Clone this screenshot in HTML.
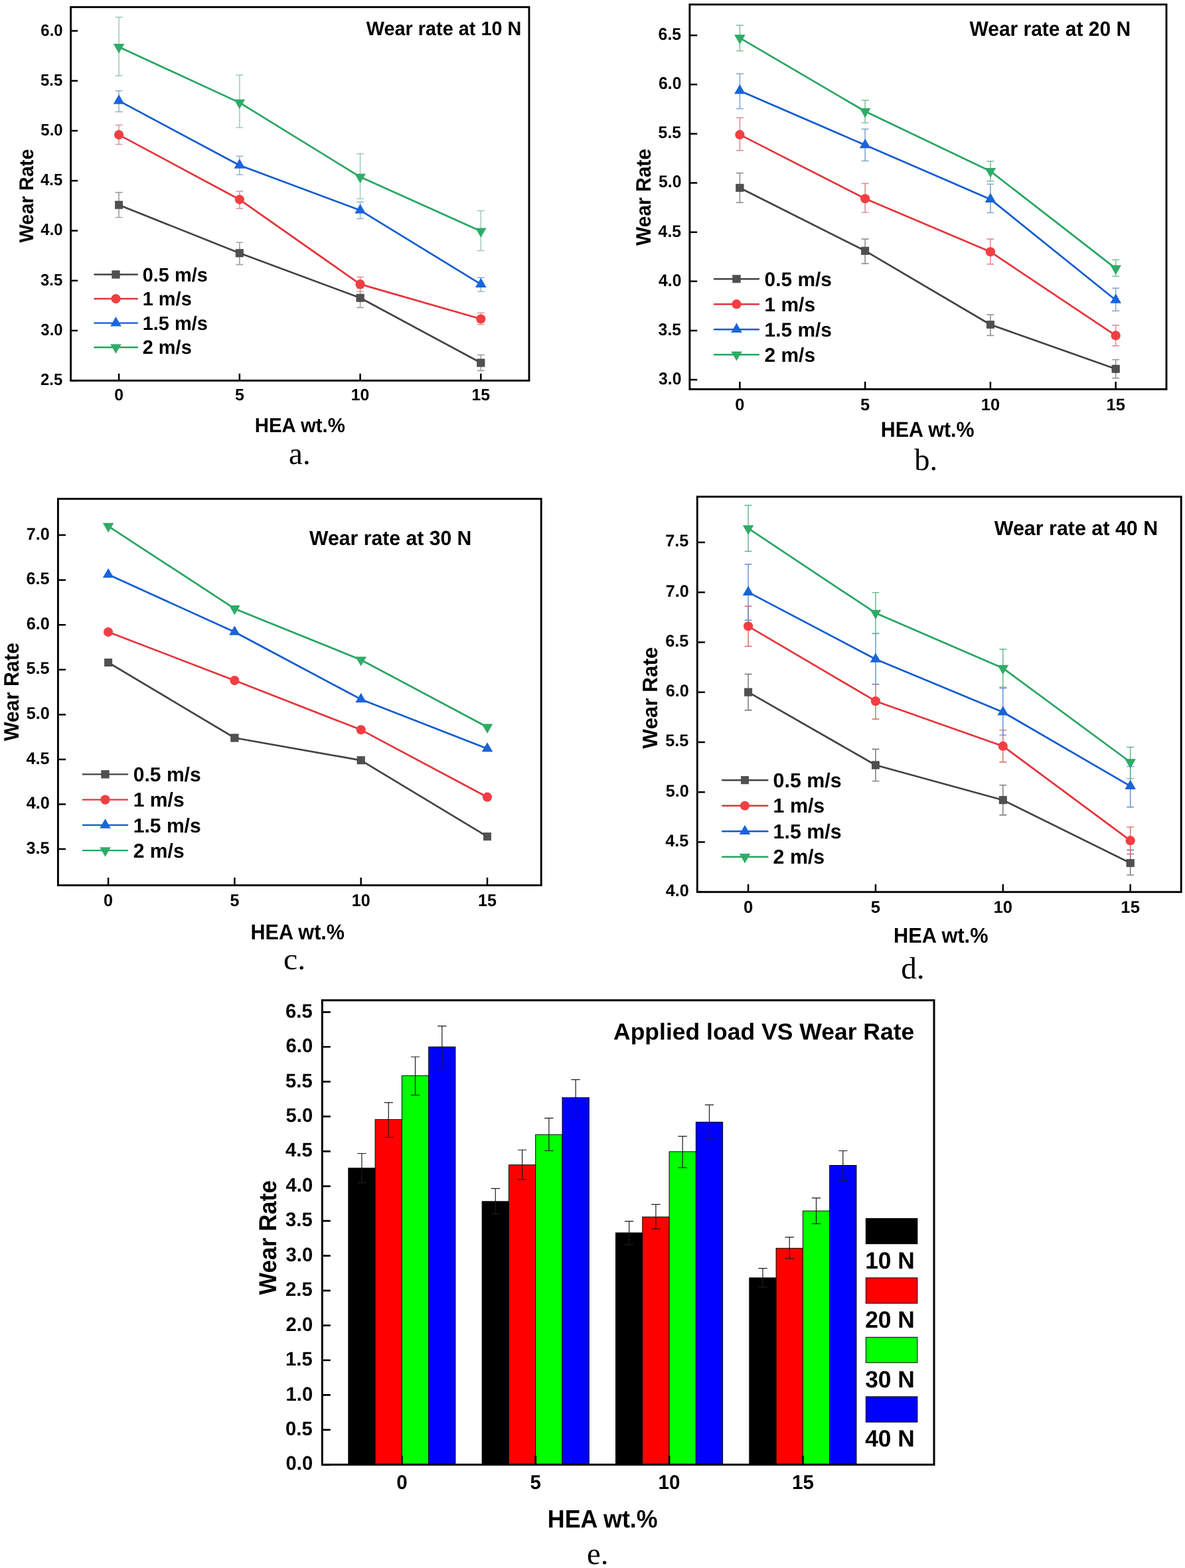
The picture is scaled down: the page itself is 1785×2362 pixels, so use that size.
<!DOCTYPE html>
<html><head><meta charset="utf-8"><title>Wear rate figure</title><style>html,body{margin:0;padding:0;background:#fff;}svg{display:block;}</style></head><body>
<svg width="1785" height="2362" viewBox="0 0 1785 2362" text-rendering="geometricPrecision">
<rect width="1785" height="2362" fill="#fff"/>
<path d="M179.1,289.88V327.49M173.7,289.88H184.5M173.7,327.49H184.5" stroke="#a4a4a4" stroke-width="1.7" fill="none"/>
<path d="M360.85,365.25V398.65M355.45,365.25H366.25M355.45,398.65H366.25" stroke="#a4a4a4" stroke-width="1.7" fill="none"/>
<path d="M542.6,433.86V463.35M537.2,433.86H548M537.2,463.35H548" stroke="#a4a4a4" stroke-width="1.7" fill="none"/>
<path d="M724.35,534.66V558.43M718.95,534.66H729.75M718.95,558.43H729.75" stroke="#a4a4a4" stroke-width="1.7" fill="none"/>
<path d="M179.1,188.47V217.51M173.7,188.47H184.5M173.7,217.51H184.5" stroke="#dba0a3" stroke-width="1.7" fill="none"/>
<path d="M360.85,288.07V314.1M355.45,288.07H366.25M355.45,314.1H366.25" stroke="#dba0a3" stroke-width="1.7" fill="none"/>
<path d="M542.6,417.46V439.27M537.2,417.46H548M537.2,439.27H548" stroke="#dba0a3" stroke-width="1.7" fill="none"/>
<path d="M724.35,471.32V488.92M718.95,471.32H729.75M718.95,488.92H729.75" stroke="#dba0a3" stroke-width="1.7" fill="none"/>
<path d="M179.1,136.87V168.46M173.7,136.87H184.5M173.7,168.46H184.5" stroke="#a2b8cb" stroke-width="1.7" fill="none"/>
<path d="M360.85,235.41V263.25M355.45,235.41H366.25M355.45,263.25H366.25" stroke="#a2b8cb" stroke-width="1.7" fill="none"/>
<path d="M542.6,304.32V329.45M537.2,304.32H548M537.2,329.45H548" stroke="#a2b8cb" stroke-width="1.7" fill="none"/>
<path d="M724.35,418.21V439.27M718.95,418.21H729.75M718.95,439.27H729.75" stroke="#a2b8cb" stroke-width="1.7" fill="none"/>
<path d="M179.1,25.84V114.15M173.7,25.84H184.5M173.7,114.15H184.5" stroke="#a9cfba" stroke-width="1.7" fill="none"/>
<path d="M360.85,113.1V192.24M355.45,113.1H366.25M355.45,192.24H366.25" stroke="#a9cfba" stroke-width="1.7" fill="none"/>
<path d="M542.6,231.65V299.36M537.2,231.65H548M537.2,299.36H548" stroke="#a9cfba" stroke-width="1.7" fill="none"/>
<path d="M724.35,317.41V377.59M718.95,317.41H729.75M718.95,377.59H729.75" stroke="#a9cfba" stroke-width="1.7" fill="none"/>
<polyline points="179.1,308.68 360.85,381.35 542.6,448.75 724.35,546.55" stroke="#434343" stroke-width="2.7" fill="none" stroke-linejoin="round"/>
<rect x="173.4" y="302.98" width="11.4" height="11.4" fill="#505050" stroke="#3a3a3a" stroke-width="0.6"/>
<rect x="355.15" y="375.65" width="11.4" height="11.4" fill="#505050" stroke="#3a3a3a" stroke-width="0.6"/>
<rect x="536.9" y="443.05" width="11.4" height="11.4" fill="#505050" stroke="#3a3a3a" stroke-width="0.6"/>
<rect x="718.65" y="540.85" width="11.4" height="11.4" fill="#505050" stroke="#3a3a3a" stroke-width="0.6"/>
<polyline points="179.1,203.07 360.85,300.56 542.6,428.14 724.35,480.5" stroke="#e6333a" stroke-width="2.7" fill="none" stroke-linejoin="round"/>
<circle cx="179.1" cy="203.07" r="7.1" fill="#f23e43"/>
<circle cx="360.85" cy="300.56" r="7.1" fill="#f23e43"/>
<circle cx="542.6" cy="428.14" r="7.1" fill="#f23e43"/>
<circle cx="724.35" cy="480.5" r="7.1" fill="#f23e43"/>
<polyline points="179.1,151.92 360.85,248.96 542.6,316.81 724.35,428.14" stroke="#0f5ccf" stroke-width="2.7" fill="none" stroke-linejoin="round"/>
<polygon points="179.1,142.32 170.79,156.72 187.41,156.72" fill="#1a64da"/>
<polygon points="360.85,239.36 352.54,253.76 369.16,253.76" fill="#1a64da"/>
<polygon points="542.6,307.21 534.29,321.61 550.91,321.61" fill="#1a64da"/>
<polygon points="724.35,418.54 716.04,432.94 732.66,432.94" fill="#1a64da"/>
<polyline points="179.1,70.82 360.85,154.62 542.6,266.56 724.35,348.25" stroke="#27a55f" stroke-width="2.7" fill="none" stroke-linejoin="round"/>
<polygon points="179.1,80.42 170.79,66.02 187.41,66.02" fill="#2fab68"/>
<polygon points="360.85,164.22 352.54,149.82 369.16,149.82" fill="#2fab68"/>
<polygon points="542.6,276.16 534.29,261.76 550.91,261.76" fill="#2fab68"/>
<polygon points="724.35,357.85 716.04,343.45 732.66,343.45" fill="#2fab68"/>
<rect x="106.6" y="10.7" width="690.4" height="562.6" fill="none" stroke="#000" stroke-width="2.9"/>
<path d="M106.6,573.17H117.1M106.6,497.95H117.1M106.6,422.73H117.1M106.6,347.5H117.1M106.6,272.27H117.1M106.6,197.05H117.1M106.6,121.82H117.1M106.6,46.6H117.1M179.1,573.3V562.8M360.85,573.3V562.8M542.6,573.3V562.8M724.35,573.3V562.8" stroke="#000" stroke-width="2.5" fill="none"/>
<text transform="translate(61.01,580.13) scale(0.9633,1)" font-family='"Liberation Sans", Arial, Helvetica, sans-serif' font-weight="bold" font-size="24.79" fill="#000">2.5</text>
<text transform="translate(61.36,504.9) scale(0.9633,1)" font-family='"Liberation Sans", Arial, Helvetica, sans-serif' font-weight="bold" font-size="24.79" fill="#000">3.0</text>
<text transform="translate(61.01,429.68) scale(0.9633,1)" font-family='"Liberation Sans", Arial, Helvetica, sans-serif' font-weight="bold" font-size="24.79" fill="#000">3.5</text>
<text transform="translate(61.36,354.45) scale(0.9633,1)" font-family='"Liberation Sans", Arial, Helvetica, sans-serif' font-weight="bold" font-size="24.79" fill="#000">4.0</text>
<text transform="translate(61.01,279.23) scale(0.9633,1)" font-family='"Liberation Sans", Arial, Helvetica, sans-serif' font-weight="bold" font-size="24.79" fill="#000">4.5</text>
<text transform="translate(61.36,204) scale(0.9633,1)" font-family='"Liberation Sans", Arial, Helvetica, sans-serif' font-weight="bold" font-size="24.79" fill="#000">5.0</text>
<text transform="translate(61.01,128.78) scale(0.9633,1)" font-family='"Liberation Sans", Arial, Helvetica, sans-serif' font-weight="bold" font-size="24.79" fill="#000">5.5</text>
<text transform="translate(61.36,53.55) scale(0.9633,1)" font-family='"Liberation Sans", Arial, Helvetica, sans-serif' font-weight="bold" font-size="24.79" fill="#000">6.0</text>
<text transform="translate(172.19,603.45) scale(1.0079,1)" font-family='"Liberation Sans", Arial, Helvetica, sans-serif' font-weight="bold" font-size="24.65" fill="#000">0</text>
<text transform="translate(353.94,603.45) scale(1.0079,1)" font-family='"Liberation Sans", Arial, Helvetica, sans-serif' font-weight="bold" font-size="24.65" fill="#000">5</text>
<text transform="translate(528.78,603.45) scale(1.0079,1)" font-family='"Liberation Sans", Arial, Helvetica, sans-serif' font-weight="bold" font-size="24.65" fill="#000">10</text>
<text transform="translate(710.53,603.45) scale(1.0079,1)" font-family='"Liberation Sans", Arial, Helvetica, sans-serif' font-weight="bold" font-size="24.65" fill="#000">15</text>
<text transform="translate(383.79,650.8) scale(0.9635,1)" font-family='"Liberation Sans", Arial, Helvetica, sans-serif' font-weight="bold" font-size="30.50" fill="#000">HEA wt.%</text>
<text transform="translate(49.5,365.5) rotate(-90) scale(0.9652,1)" font-family='"Liberation Sans", Arial, Helvetica, sans-serif' font-weight="bold" font-size="30.00" fill="#000">Wear Rate</text>
<text transform="translate(551.7,53.1) scale(0.9756,1)" font-family='"Liberation Sans", Arial, Helvetica, sans-serif' font-weight="bold" font-size="29.58" fill="#000">Wear rate at 10 N</text>
<text transform="translate(434.95,698.6) scale(1.0090,1)" font-family='"Liberation Serif", "Times New Roman", serif' font-weight="normal" font-size="46.80" fill="#000">a.</text>
<line x1="142.45" y1="413.5" x2="206.8" y2="413.5" stroke="#434343" stroke-width="2.4" stroke-linecap="round"/>
<rect x="168.8" y="407.8" width="11.4" height="11.4" fill="#505050" stroke="#3a3a3a" stroke-width="0.6"/>
<text transform="translate(214.74,423.71) scale(0.9891,1)" font-family='"Liberation Sans", Arial, Helvetica, sans-serif' font-weight="bold" font-size="29.26" fill="#000">0.5 m/s</text>
<line x1="142.45" y1="450.07" x2="206.8" y2="450.07" stroke="#e6333a" stroke-width="2.4" stroke-linecap="round"/>
<circle cx="174.5" cy="450.07" r="7.1" fill="#f23e43"/>
<text transform="translate(214.74,460.28) scale(0.9891,1)" font-family='"Liberation Sans", Arial, Helvetica, sans-serif' font-weight="bold" font-size="29.26" fill="#000">1 m/s</text>
<line x1="142.45" y1="486.64" x2="206.8" y2="486.64" stroke="#0f5ccf" stroke-width="2.4" stroke-linecap="round"/>
<polygon points="174.5,477.04 166.19,491.44 182.81,491.44" fill="#1a64da"/>
<text transform="translate(214.74,496.85) scale(0.9891,1)" font-family='"Liberation Sans", Arial, Helvetica, sans-serif' font-weight="bold" font-size="29.26" fill="#000">1.5 m/s</text>
<line x1="142.45" y1="523.21" x2="206.8" y2="523.21" stroke="#27a55f" stroke-width="2.4" stroke-linecap="round"/>
<polygon points="174.5,532.81 166.19,518.41 182.81,518.41" fill="#2fab68"/>
<text transform="translate(214.74,533.42) scale(0.9891,1)" font-family='"Liberation Sans", Arial, Helvetica, sans-serif' font-weight="bold" font-size="29.26" fill="#000">2 m/s</text>
<path d="M1114.4,260.72V305.19M1109,260.72H1119.8M1109,305.19H1119.8" stroke="#969696" stroke-width="1.7" fill="none"/>
<path d="M1303.15,360.04V397.09M1297.75,360.04H1308.55M1297.75,397.09H1308.55" stroke="#969696" stroke-width="1.7" fill="none"/>
<path d="M1491.9,474.17V505.3M1486.5,474.17H1497.3M1486.5,505.3H1497.3" stroke="#969696" stroke-width="1.7" fill="none"/>
<path d="M1680.65,541.77V569.63M1675.25,541.77H1686.05M1675.25,569.63H1686.05" stroke="#969696" stroke-width="1.7" fill="none"/>
<path d="M1114.4,177.42V226.63M1109,177.42H1119.8M1109,226.63H1119.8" stroke="#e09598" stroke-width="1.7" fill="none"/>
<path d="M1303.15,276.43V320.01M1297.75,276.43H1308.55M1297.75,320.01H1308.55" stroke="#e09598" stroke-width="1.7" fill="none"/>
<path d="M1491.9,360.04V397.83M1486.5,360.04H1497.3M1486.5,397.83H1497.3" stroke="#e09598" stroke-width="1.7" fill="none"/>
<path d="M1680.65,489.89V520.87M1675.25,489.89H1686.05M1675.25,520.87H1686.05" stroke="#e09598" stroke-width="1.7" fill="none"/>
<path d="M1114.4,111.16V163.63M1109,111.16H1119.8M1109,163.63H1119.8" stroke="#8cadd3" stroke-width="1.7" fill="none"/>
<path d="M1303.15,194.31V242.34M1297.75,194.31H1308.55M1297.75,242.34H1308.55" stroke="#8cadd3" stroke-width="1.7" fill="none"/>
<path d="M1491.9,277.32V320.46M1486.5,277.32H1497.3M1486.5,320.46H1497.3" stroke="#8cadd3" stroke-width="1.7" fill="none"/>
<path d="M1680.65,434.15V468.39M1675.25,434.15H1686.05M1675.25,468.39H1686.05" stroke="#8cadd3" stroke-width="1.7" fill="none"/>
<path d="M1114.4,38.08V76.62M1109,38.08H1119.8M1109,76.62H1119.8" stroke="#8cc4a3" stroke-width="1.7" fill="none"/>
<path d="M1303.15,151.03V184.98M1297.75,151.03H1308.55M1297.75,184.98H1308.55" stroke="#8cc4a3" stroke-width="1.7" fill="none"/>
<path d="M1491.9,242.79V272.88M1486.5,242.79H1497.3M1486.5,272.88H1497.3" stroke="#8cc4a3" stroke-width="1.7" fill="none"/>
<path d="M1680.65,391.46V416.22M1675.25,391.46H1686.05M1675.25,416.22H1686.05" stroke="#8cc4a3" stroke-width="1.7" fill="none"/>
<polyline points="1114.4,282.96 1303.15,377.82 1491.9,489 1680.65,555.7" stroke="#434343" stroke-width="2.7" fill="none" stroke-linejoin="round"/>
<rect x="1108.7" y="277.26" width="11.4" height="11.4" fill="#505050" stroke="#3a3a3a" stroke-width="0.6"/>
<rect x="1297.45" y="372.12" width="11.4" height="11.4" fill="#505050" stroke="#3a3a3a" stroke-width="0.6"/>
<rect x="1486.2" y="483.3" width="11.4" height="11.4" fill="#505050" stroke="#3a3a3a" stroke-width="0.6"/>
<rect x="1674.95" y="550" width="11.4" height="11.4" fill="#505050" stroke="#3a3a3a" stroke-width="0.6"/>
<polyline points="1114.4,202.91 1303.15,299.26 1491.9,379.31 1680.65,505.45" stroke="#e6333a" stroke-width="2.7" fill="none" stroke-linejoin="round"/>
<circle cx="1114.4" cy="202.91" r="7.1" fill="#f23e43"/>
<circle cx="1303.15" cy="299.26" r="7.1" fill="#f23e43"/>
<circle cx="1491.9" cy="379.31" r="7.1" fill="#f23e43"/>
<circle cx="1680.65" cy="505.45" r="7.1" fill="#f23e43"/>
<polyline points="1114.4,136.65 1303.15,218.48 1491.9,300.15 1680.65,451.94" stroke="#0f5ccf" stroke-width="2.7" fill="none" stroke-linejoin="round"/>
<polygon points="1114.4,127.05 1106.09,141.45 1122.71,141.45" fill="#1a64da"/>
<polygon points="1303.15,208.88 1294.84,223.28 1311.46,223.28" fill="#1a64da"/>
<polygon points="1491.9,290.55 1483.59,304.95 1500.21,304.95" fill="#1a64da"/>
<polygon points="1680.65,442.34 1672.34,456.74 1688.96,456.74" fill="#1a64da"/>
<polyline points="1114.4,57.05 1303.15,167.78 1491.9,257.91 1680.65,404.36" stroke="#27a55f" stroke-width="2.7" fill="none" stroke-linejoin="round"/>
<polygon points="1114.4,66.65 1106.09,52.25 1122.71,52.25" fill="#2fab68"/>
<polygon points="1303.15,177.38 1294.84,162.98 1311.46,162.98" fill="#2fab68"/>
<polygon points="1491.9,267.51 1483.59,253.11 1500.21,253.11" fill="#2fab68"/>
<polygon points="1680.65,413.96 1672.34,399.56 1688.96,399.56" fill="#2fab68"/>
<rect x="1038.9" y="6.8" width="718.1" height="579.5" fill="none" stroke="#000" stroke-width="2.9"/>
<path d="M1038.9,572H1050.2M1038.9,497.89H1050.2M1038.9,423.77H1050.2M1038.9,349.66H1050.2M1038.9,275.54H1050.2M1038.9,201.43H1050.2M1038.9,127.31H1050.2M1038.9,53.2H1050.2M1114.4,586.3V575M1303.15,586.3V575M1491.9,586.3V575M1680.65,586.3V575" stroke="#000" stroke-width="2.5" fill="none"/>
<text transform="translate(991.98,578.85) scale(0.9687,1)" font-family='"Liberation Sans", Arial, Helvetica, sans-serif' font-weight="bold" font-size="25.63" fill="#000">3.0</text>
<text transform="translate(991.61,504.73) scale(0.9687,1)" font-family='"Liberation Sans", Arial, Helvetica, sans-serif' font-weight="bold" font-size="25.63" fill="#000">3.5</text>
<text transform="translate(991.98,430.62) scale(0.9687,1)" font-family='"Liberation Sans", Arial, Helvetica, sans-serif' font-weight="bold" font-size="25.63" fill="#000">4.0</text>
<text transform="translate(991.61,356.5) scale(0.9687,1)" font-family='"Liberation Sans", Arial, Helvetica, sans-serif' font-weight="bold" font-size="25.63" fill="#000">4.5</text>
<text transform="translate(991.98,282.39) scale(0.9687,1)" font-family='"Liberation Sans", Arial, Helvetica, sans-serif' font-weight="bold" font-size="25.63" fill="#000">5.0</text>
<text transform="translate(991.61,208.27) scale(0.9687,1)" font-family='"Liberation Sans", Arial, Helvetica, sans-serif' font-weight="bold" font-size="25.63" fill="#000">5.5</text>
<text transform="translate(991.98,134.16) scale(0.9687,1)" font-family='"Liberation Sans", Arial, Helvetica, sans-serif' font-weight="bold" font-size="25.63" fill="#000">6.0</text>
<text transform="translate(991.61,60.04) scale(0.9687,1)" font-family='"Liberation Sans", Arial, Helvetica, sans-serif' font-weight="bold" font-size="25.63" fill="#000">6.5</text>
<text transform="translate(1107.32,617.55) scale(1.0104,1)" font-family='"Liberation Sans", Arial, Helvetica, sans-serif' font-weight="bold" font-size="25.21" fill="#000">0</text>
<text transform="translate(1296.07,617.55) scale(1.0104,1)" font-family='"Liberation Sans", Arial, Helvetica, sans-serif' font-weight="bold" font-size="25.21" fill="#000">5</text>
<text transform="translate(1477.73,617.55) scale(1.0104,1)" font-family='"Liberation Sans", Arial, Helvetica, sans-serif' font-weight="bold" font-size="25.21" fill="#000">10</text>
<text transform="translate(1666.48,617.55) scale(1.0104,1)" font-family='"Liberation Sans", Arial, Helvetica, sans-serif' font-weight="bold" font-size="25.21" fill="#000">15</text>
<text transform="translate(1326.82,657.88) scale(0.9365,1)" font-family='"Liberation Sans", Arial, Helvetica, sans-serif' font-weight="bold" font-size="32.48" fill="#000">HEA wt.%</text>
<text transform="translate(979.89,369.9) rotate(-90) scale(0.9529,1)" font-family='"Liberation Sans", Arial, Helvetica, sans-serif' font-weight="bold" font-size="31.43" fill="#000">Wear Rate</text>
<text transform="translate(1460.5,53.89) scale(0.9626,1)" font-family='"Liberation Sans", Arial, Helvetica, sans-serif' font-weight="bold" font-size="31.13" fill="#000">Wear rate at 20 N</text>
<text transform="translate(1377.2,708.2) scale(0.9988,1)" font-family='"Liberation Serif", "Times New Roman", serif' font-weight="normal" font-size="46.48" fill="#000">b.</text>
<line x1="1076" y1="420.2" x2="1142.9" y2="420.2" stroke="#434343" stroke-width="2.4" stroke-linecap="round"/>
<rect x="1103.8" y="414.5" width="11.4" height="11.4" fill="#505050" stroke="#3a3a3a" stroke-width="0.6"/>
<text transform="translate(1151.5,430.9) scale(1.0002,1)" font-family='"Liberation Sans", Arial, Helvetica, sans-serif' font-weight="bold" font-size="29.93" fill="#000">0.5 m/s</text>
<line x1="1076" y1="458.2" x2="1142.9" y2="458.2" stroke="#e6333a" stroke-width="2.4" stroke-linecap="round"/>
<circle cx="1109.5" cy="458.2" r="7.1" fill="#f23e43"/>
<text transform="translate(1151.5,468.9) scale(1.0002,1)" font-family='"Liberation Sans", Arial, Helvetica, sans-serif' font-weight="bold" font-size="29.93" fill="#000">1 m/s</text>
<line x1="1076" y1="496.2" x2="1142.9" y2="496.2" stroke="#0f5ccf" stroke-width="2.4" stroke-linecap="round"/>
<polygon points="1109.5,486.6 1101.19,501 1117.81,501" fill="#1a64da"/>
<text transform="translate(1151.5,506.9) scale(1.0002,1)" font-family='"Liberation Sans", Arial, Helvetica, sans-serif' font-weight="bold" font-size="29.93" fill="#000">1.5 m/s</text>
<line x1="1076" y1="534.2" x2="1142.9" y2="534.2" stroke="#27a55f" stroke-width="2.4" stroke-linecap="round"/>
<polygon points="1109.5,543.8 1101.19,529.4 1117.81,529.4" fill="#2fab68"/>
<text transform="translate(1151.5,544.9) scale(1.0002,1)" font-family='"Liberation Sans", Arial, Helvetica, sans-serif' font-weight="bold" font-size="29.93" fill="#000">2 m/s</text>
<polyline points="163.1,998 353.4,1111.52 543.7,1145.3 734,1260.17" stroke="#434343" stroke-width="2.7" fill="none" stroke-linejoin="round"/>
<rect x="157.4" y="992.3" width="11.4" height="11.4" fill="#505050" stroke="#3a3a3a" stroke-width="0.6"/>
<rect x="347.7" y="1105.82" width="11.4" height="11.4" fill="#505050" stroke="#3a3a3a" stroke-width="0.6"/>
<rect x="538" y="1139.6" width="11.4" height="11.4" fill="#505050" stroke="#3a3a3a" stroke-width="0.6"/>
<rect x="728.3" y="1254.47" width="11.4" height="11.4" fill="#505050" stroke="#3a3a3a" stroke-width="0.6"/>
<polyline points="163.1,952.05 353.4,1025.03 543.7,1099.35 734,1200.71" stroke="#e6333a" stroke-width="2.7" fill="none" stroke-linejoin="round"/>
<circle cx="163.1" cy="952.05" r="7.1" fill="#f23e43"/>
<circle cx="353.4" cy="1025.03" r="7.1" fill="#f23e43"/>
<circle cx="543.7" cy="1099.35" r="7.1" fill="#f23e43"/>
<circle cx="734" cy="1200.71" r="7.1" fill="#f23e43"/>
<polyline points="163.1,865.56 353.4,952.05 543.7,1053.41 734,1127.73" stroke="#0f5ccf" stroke-width="2.7" fill="none" stroke-linejoin="round"/>
<polygon points="163.1,855.96 154.79,870.36 171.41,870.36" fill="#1a64da"/>
<polygon points="353.4,942.45 345.09,956.85 361.71,956.85" fill="#1a64da"/>
<polygon points="543.7,1043.81 535.39,1058.21 552.01,1058.21" fill="#1a64da"/>
<polygon points="734,1118.13 725.69,1132.53 742.31,1132.53" fill="#1a64da"/>
<polyline points="163.1,792.59 353.4,916.91 543.7,993.94 734,1095.3" stroke="#27a55f" stroke-width="2.7" fill="none" stroke-linejoin="round"/>
<polygon points="163.1,802.19 154.79,787.79 171.41,787.79" fill="#2fab68"/>
<polygon points="353.4,926.51 345.09,912.11 361.71,912.11" fill="#2fab68"/>
<polygon points="543.7,1003.54 535.39,989.14 552.01,989.14" fill="#2fab68"/>
<polygon points="734,1104.9 725.69,1090.5 742.31,1090.5" fill="#2fab68"/>
<rect x="87.4" y="751.4" width="727.8" height="582.2" fill="none" stroke="#000" stroke-width="2.9"/>
<path d="M87.4,1279.09H99M87.4,1211.52H99M87.4,1143.95H99M87.4,1076.38H99M87.4,1008.81H99M87.4,941.24H99M87.4,873.67H99M87.4,806.1H99M163.1,1333.6V1322M353.4,1333.6V1322M543.7,1333.6V1322M734,1333.6V1322" stroke="#000" stroke-width="2.5" fill="none"/>
<text transform="translate(39.38,1285.73) scale(0.9865,1)" font-family='"Liberation Sans", Arial, Helvetica, sans-serif' font-weight="bold" font-size="25.63" fill="#000">3.5</text>
<text transform="translate(39.76,1218.16) scale(0.9865,1)" font-family='"Liberation Sans", Arial, Helvetica, sans-serif' font-weight="bold" font-size="25.63" fill="#000">4.0</text>
<text transform="translate(39.38,1150.59) scale(0.9865,1)" font-family='"Liberation Sans", Arial, Helvetica, sans-serif' font-weight="bold" font-size="25.63" fill="#000">4.5</text>
<text transform="translate(39.76,1083.02) scale(0.9865,1)" font-family='"Liberation Sans", Arial, Helvetica, sans-serif' font-weight="bold" font-size="25.63" fill="#000">5.0</text>
<text transform="translate(39.38,1015.45) scale(0.9865,1)" font-family='"Liberation Sans", Arial, Helvetica, sans-serif' font-weight="bold" font-size="25.63" fill="#000">5.5</text>
<text transform="translate(39.76,947.88) scale(0.9865,1)" font-family='"Liberation Sans", Arial, Helvetica, sans-serif' font-weight="bold" font-size="25.63" fill="#000">6.0</text>
<text transform="translate(39.38,880.31) scale(0.9865,1)" font-family='"Liberation Sans", Arial, Helvetica, sans-serif' font-weight="bold" font-size="25.63" fill="#000">6.5</text>
<text transform="translate(39.76,812.74) scale(0.9865,1)" font-family='"Liberation Sans", Arial, Helvetica, sans-serif' font-weight="bold" font-size="25.63" fill="#000">7.0</text>
<text transform="translate(156.1,1365.24) scale(0.9708,1)" font-family='"Liberation Sans", Arial, Helvetica, sans-serif' font-weight="bold" font-size="25.92" fill="#000">0</text>
<text transform="translate(346.4,1365.24) scale(0.9708,1)" font-family='"Liberation Sans", Arial, Helvetica, sans-serif' font-weight="bold" font-size="25.92" fill="#000">5</text>
<text transform="translate(529.71,1365.24) scale(0.9708,1)" font-family='"Liberation Sans", Arial, Helvetica, sans-serif' font-weight="bold" font-size="25.92" fill="#000">10</text>
<text transform="translate(720.01,1365.24) scale(0.9708,1)" font-family='"Liberation Sans", Arial, Helvetica, sans-serif' font-weight="bold" font-size="25.92" fill="#000">15</text>
<text transform="translate(377.41,1414.58) scale(0.9419,1)" font-family='"Liberation Sans", Arial, Helvetica, sans-serif' font-weight="bold" font-size="32.48" fill="#000">HEA wt.%</text>
<text transform="translate(27.88,1116.3) rotate(-90) scale(0.9630,1)" font-family='"Liberation Sans", Arial, Helvetica, sans-serif' font-weight="bold" font-size="31.57" fill="#000">Wear Rate</text>
<text transform="translate(466,820.69) scale(0.9836,1)" font-family='"Liberation Sans", Arial, Helvetica, sans-serif' font-weight="bold" font-size="30.70" fill="#000">Wear rate at 30 N</text>
<text transform="translate(426.99,1459.92) scale(1.0537,1)" font-family='"Liberation Serif", "Times New Roman", serif' font-weight="normal" font-size="45.36" fill="#000">c.</text>
<line x1="124.9" y1="1166.4" x2="192" y2="1166.4" stroke="#434343" stroke-width="2.4" stroke-linecap="round"/>
<rect x="152.8" y="1160.7" width="11.4" height="11.4" fill="#505050" stroke="#3a3a3a" stroke-width="0.6"/>
<text transform="translate(200.7,1177.19) scale(0.9919,1)" font-family='"Liberation Sans", Arial, Helvetica, sans-serif' font-weight="bold" font-size="30.34" fill="#000">0.5 m/s</text>
<line x1="124.9" y1="1204.63" x2="192" y2="1204.63" stroke="#e6333a" stroke-width="2.4" stroke-linecap="round"/>
<circle cx="158.5" cy="1204.63" r="7.1" fill="#f23e43"/>
<text transform="translate(200.7,1215.42) scale(0.9919,1)" font-family='"Liberation Sans", Arial, Helvetica, sans-serif' font-weight="bold" font-size="30.34" fill="#000">1 m/s</text>
<line x1="124.9" y1="1242.86" x2="192" y2="1242.86" stroke="#0f5ccf" stroke-width="2.4" stroke-linecap="round"/>
<polygon points="158.5,1233.26 150.19,1247.66 166.81,1247.66" fill="#1a64da"/>
<text transform="translate(200.7,1253.65) scale(0.9919,1)" font-family='"Liberation Sans", Arial, Helvetica, sans-serif' font-weight="bold" font-size="30.34" fill="#000">1.5 m/s</text>
<line x1="124.9" y1="1281.09" x2="192" y2="1281.09" stroke="#27a55f" stroke-width="2.4" stroke-linecap="round"/>
<polygon points="158.5,1290.69 150.19,1276.29 166.81,1276.29" fill="#2fab68"/>
<text transform="translate(200.7,1291.88) scale(0.9919,1)" font-family='"Liberation Sans", Arial, Helvetica, sans-serif' font-weight="bold" font-size="30.34" fill="#000">2 m/s</text>
<path d="M1127.1,1015.57V1069.76M1121.7,1015.57H1132.5M1121.7,1069.76H1132.5" stroke="#727272" stroke-width="1.4" fill="none"/>
<path d="M1318.95,1128.46V1176.62M1313.55,1128.46H1324.35M1313.55,1176.62H1324.35" stroke="#727272" stroke-width="1.4" fill="none"/>
<path d="M1510.8,1182.64V1227.79M1505.4,1182.64H1516.2M1505.4,1227.79H1516.2" stroke="#727272" stroke-width="1.4" fill="none"/>
<path d="M1702.65,1280.47V1318.1M1697.25,1280.47H1708.05M1697.25,1318.1H1708.05" stroke="#727272" stroke-width="1.4" fill="none"/>
<path d="M1127.1,913.23V973.43M1121.7,913.23H1132.5M1121.7,973.43H1132.5" stroke="#da6468" stroke-width="1.4" fill="none"/>
<path d="M1318.95,1030.62V1083.3M1313.55,1030.62H1324.35M1313.55,1083.3H1324.35" stroke="#da6468" stroke-width="1.4" fill="none"/>
<path d="M1510.8,1099.86V1148.02M1505.4,1099.86H1516.2M1505.4,1148.02H1516.2" stroke="#da6468" stroke-width="1.4" fill="none"/>
<path d="M1702.65,1245.85V1286.49M1697.25,1245.85H1708.05M1697.25,1286.49H1708.05" stroke="#da6468" stroke-width="1.4" fill="none"/>
<path d="M1127.1,850.01V934.3M1121.7,850.01H1132.5M1121.7,934.3H1132.5" stroke="#5d8fd8" stroke-width="1.4" fill="none"/>
<path d="M1318.95,954.17V1030.77M1313.55,954.17H1324.35M1313.55,1030.77H1324.35" stroke="#5d8fd8" stroke-width="1.4" fill="none"/>
<path d="M1510.8,1036.64V1107.38M1505.4,1036.64H1516.2M1505.4,1107.38H1516.2" stroke="#5d8fd8" stroke-width="1.4" fill="none"/>
<path d="M1702.65,1154.64V1215.75M1697.25,1154.64H1708.05M1697.25,1215.75H1708.05" stroke="#5d8fd8" stroke-width="1.4" fill="none"/>
<path d="M1127.1,761.21V830.45M1121.7,761.21H1132.5M1121.7,830.45H1132.5" stroke="#5fb586" stroke-width="1.4" fill="none"/>
<path d="M1318.95,892.61V954.62M1313.55,892.61H1324.35M1313.55,954.62H1324.35" stroke="#5fb586" stroke-width="1.4" fill="none"/>
<path d="M1510.8,977.95V1035.14M1505.4,977.95H1516.2M1505.4,1035.14H1516.2" stroke="#5fb586" stroke-width="1.4" fill="none"/>
<path d="M1702.65,1125.45V1172.86M1697.25,1125.45H1708.05M1697.25,1172.86H1708.05" stroke="#5fb586" stroke-width="1.4" fill="none"/>
<polyline points="1127.1,1042.66 1318.95,1152.54 1510.8,1205.22 1702.65,1300.04" stroke="#434343" stroke-width="2.7" fill="none" stroke-linejoin="round"/>
<rect x="1121.4" y="1036.96" width="11.4" height="11.4" fill="#505050" stroke="#3a3a3a" stroke-width="0.6"/>
<rect x="1313.25" y="1146.84" width="11.4" height="11.4" fill="#505050" stroke="#3a3a3a" stroke-width="0.6"/>
<rect x="1505.1" y="1199.52" width="11.4" height="11.4" fill="#505050" stroke="#3a3a3a" stroke-width="0.6"/>
<rect x="1696.95" y="1294.34" width="11.4" height="11.4" fill="#505050" stroke="#3a3a3a" stroke-width="0.6"/>
<polyline points="1127.1,943.33 1318.95,1056.21 1510.8,1123.94 1702.65,1266.17" stroke="#e6333a" stroke-width="2.7" fill="none" stroke-linejoin="round"/>
<circle cx="1127.1" cy="943.33" r="7.1" fill="#f23e43"/>
<circle cx="1318.95" cy="1056.21" r="7.1" fill="#f23e43"/>
<circle cx="1510.8" cy="1123.94" r="7.1" fill="#f23e43"/>
<circle cx="1702.65" cy="1266.17" r="7.1" fill="#f23e43"/>
<polyline points="1127.1,892.15 1318.95,993 1510.8,1072.77 1702.65,1184.14" stroke="#0f5ccf" stroke-width="2.7" fill="none" stroke-linejoin="round"/>
<polygon points="1127.1,882.55 1118.79,896.95 1135.41,896.95" fill="#1a64da"/>
<polygon points="1318.95,983.4 1310.64,997.8 1327.26,997.8" fill="#1a64da"/>
<polygon points="1510.8,1063.17 1502.49,1077.57 1519.11,1077.57" fill="#1a64da"/>
<polygon points="1702.65,1174.54 1694.34,1188.94 1710.96,1188.94" fill="#1a64da"/>
<polyline points="1127.1,795.98 1318.95,923.46 1510.8,1006.54 1702.65,1148.02" stroke="#27a55f" stroke-width="2.7" fill="none" stroke-linejoin="round"/>
<polygon points="1127.1,805.58 1118.79,791.18 1135.41,791.18" fill="#2fab68"/>
<polygon points="1318.95,933.06 1310.64,918.66 1327.26,918.66" fill="#2fab68"/>
<polygon points="1510.8,1016.14 1502.49,1001.74 1519.11,1001.74" fill="#2fab68"/>
<polygon points="1702.65,1157.62 1694.34,1143.22 1710.96,1143.22" fill="#2fab68"/>
<rect x="1050.3" y="748.2" width="728.9" height="595.5" fill="none" stroke="#000" stroke-width="2.9"/>
<path d="M1050.3,1343.68H1061.9M1050.3,1268.43H1061.9M1050.3,1193.17H1061.9M1050.3,1117.92H1061.9M1050.3,1042.66H1061.9M1050.3,967.41H1061.9M1050.3,892.15H1061.9M1050.3,816.9H1061.9M1127.1,1343.7V1332.1M1318.95,1343.7V1332.1M1510.8,1343.7V1332.1M1702.65,1343.7V1332.1" stroke="#000" stroke-width="2.5" fill="none"/>
<text transform="translate(1002.64,1350.03) scale(0.9951,1)" font-family='"Liberation Sans", Arial, Helvetica, sans-serif' font-weight="bold" font-size="25.43" fill="#000">4.0</text>
<text transform="translate(1002.26,1274.78) scale(0.9951,1)" font-family='"Liberation Sans", Arial, Helvetica, sans-serif' font-weight="bold" font-size="25.43" fill="#000">4.5</text>
<text transform="translate(1002.64,1199.52) scale(0.9951,1)" font-family='"Liberation Sans", Arial, Helvetica, sans-serif' font-weight="bold" font-size="25.43" fill="#000">5.0</text>
<text transform="translate(1002.26,1124.27) scale(0.9951,1)" font-family='"Liberation Sans", Arial, Helvetica, sans-serif' font-weight="bold" font-size="25.43" fill="#000">5.5</text>
<text transform="translate(1002.64,1049.01) scale(0.9951,1)" font-family='"Liberation Sans", Arial, Helvetica, sans-serif' font-weight="bold" font-size="25.43" fill="#000">6.0</text>
<text transform="translate(1002.26,973.76) scale(0.9951,1)" font-family='"Liberation Sans", Arial, Helvetica, sans-serif' font-weight="bold" font-size="25.43" fill="#000">6.5</text>
<text transform="translate(1002.64,898.5) scale(0.9951,1)" font-family='"Liberation Sans", Arial, Helvetica, sans-serif' font-weight="bold" font-size="25.43" fill="#000">7.0</text>
<text transform="translate(1002.26,823.25) scale(0.9951,1)" font-family='"Liberation Sans", Arial, Helvetica, sans-serif' font-weight="bold" font-size="25.43" fill="#000">7.5</text>
<text transform="translate(1119.96,1375.24) scale(1.0020,1)" font-family='"Liberation Sans", Arial, Helvetica, sans-serif' font-weight="bold" font-size="25.63" fill="#000">0</text>
<text transform="translate(1311.81,1375.24) scale(1.0020,1)" font-family='"Liberation Sans", Arial, Helvetica, sans-serif' font-weight="bold" font-size="25.63" fill="#000">5</text>
<text transform="translate(1496.52,1375.24) scale(1.0020,1)" font-family='"Liberation Sans", Arial, Helvetica, sans-serif' font-weight="bold" font-size="25.63" fill="#000">10</text>
<text transform="translate(1688.37,1375.24) scale(1.0020,1)" font-family='"Liberation Sans", Arial, Helvetica, sans-serif' font-weight="bold" font-size="25.63" fill="#000">15</text>
<text transform="translate(1346.1,1419.78) scale(0.9599,1)" font-family='"Liberation Sans", Arial, Helvetica, sans-serif' font-weight="bold" font-size="32.06" fill="#000">HEA wt.%</text>
<text transform="translate(989.88,1127.7) rotate(-90) scale(0.9951,1)" font-family='"Liberation Sans", Arial, Helvetica, sans-serif' font-weight="bold" font-size="31.57" fill="#000">Wear Rate</text>
<text transform="translate(1497.7,806.49) scale(0.9921,1)" font-family='"Liberation Sans", Arial, Helvetica, sans-serif' font-weight="bold" font-size="30.70" fill="#000">Wear rate at 40 N</text>
<text transform="translate(1357.25,1474) scale(1.0162,1)" font-family='"Liberation Serif", "Times New Roman", serif' font-weight="normal" font-size="46.48" fill="#000">d.</text>
<line x1="1088.2" y1="1175.2" x2="1156.3" y2="1175.2" stroke="#434343" stroke-width="2.4" stroke-linecap="round"/>
<rect x="1116.3" y="1169.5" width="11.4" height="11.4" fill="#505050" stroke="#3a3a3a" stroke-width="0.6"/>
<text transform="translate(1164.58,1185.69) scale(0.9931,1)" font-family='"Liberation Sans", Arial, Helvetica, sans-serif' font-weight="bold" font-size="30.60" fill="#000">0.5 m/s</text>
<line x1="1088.2" y1="1213.73" x2="1156.3" y2="1213.73" stroke="#e6333a" stroke-width="2.4" stroke-linecap="round"/>
<circle cx="1122" cy="1213.73" r="7.1" fill="#f23e43"/>
<text transform="translate(1164.58,1224.22) scale(0.9931,1)" font-family='"Liberation Sans", Arial, Helvetica, sans-serif' font-weight="bold" font-size="30.60" fill="#000">1 m/s</text>
<line x1="1088.2" y1="1252.26" x2="1156.3" y2="1252.26" stroke="#0f5ccf" stroke-width="2.4" stroke-linecap="round"/>
<polygon points="1122,1242.66 1113.69,1257.06 1130.31,1257.06" fill="#1a64da"/>
<text transform="translate(1164.58,1262.75) scale(0.9931,1)" font-family='"Liberation Sans", Arial, Helvetica, sans-serif' font-weight="bold" font-size="30.60" fill="#000">1.5 m/s</text>
<line x1="1088.2" y1="1290.79" x2="1156.3" y2="1290.79" stroke="#27a55f" stroke-width="2.4" stroke-linecap="round"/>
<polygon points="1122,1300.39 1113.69,1285.99 1130.31,1285.99" fill="#2fab68"/>
<text transform="translate(1164.58,1301.28) scale(0.9931,1)" font-family='"Liberation Sans", Arial, Helvetica, sans-serif' font-weight="bold" font-size="30.60" fill="#000">2 m/s</text>
<rect x="524.84" y="1759.51" width="40.28" height="446.79" fill="#000000" stroke="#000" stroke-width="1"/>
<rect x="565.12" y="1686.41" width="40.28" height="519.89" fill="#ff0000" stroke="#000" stroke-width="1"/>
<rect x="605.4" y="1620.44" width="40.28" height="585.86" fill="#00ff00" stroke="#000" stroke-width="1"/>
<rect x="645.68" y="1577.02" width="40.28" height="629.28" fill="#0000ff" stroke="#000" stroke-width="1"/>
<rect x="726.17" y="1809.85" width="40.28" height="396.45" fill="#000000" stroke="#000" stroke-width="1"/>
<rect x="766.45" y="1754.79" width="40.28" height="451.51" fill="#ff0000" stroke="#000" stroke-width="1"/>
<rect x="806.73" y="1709.17" width="40.28" height="497.13" fill="#00ff00" stroke="#000" stroke-width="1"/>
<rect x="847.01" y="1653.37" width="40.28" height="552.93" fill="#0000ff" stroke="#000" stroke-width="1"/>
<rect x="927.5" y="1857.05" width="40.28" height="349.25" fill="#000000" stroke="#000" stroke-width="1"/>
<rect x="967.78" y="1833.14" width="40.28" height="373.16" fill="#ff0000" stroke="#000" stroke-width="1"/>
<rect x="1008.06" y="1734.86" width="40.28" height="471.44" fill="#00ff00" stroke="#000" stroke-width="1"/>
<rect x="1048.34" y="1690.29" width="40.28" height="516.01" fill="#0000ff" stroke="#000" stroke-width="1"/>
<rect x="1128.83" y="1924.91" width="40.28" height="281.39" fill="#000000" stroke="#000" stroke-width="1"/>
<rect x="1169.11" y="1880.33" width="40.28" height="325.97" fill="#ff0000" stroke="#000" stroke-width="1"/>
<rect x="1209.39" y="1824.12" width="40.28" height="382.18" fill="#00ff00" stroke="#000" stroke-width="1"/>
<rect x="1249.67" y="1755.53" width="40.28" height="450.77" fill="#0000ff" stroke="#000" stroke-width="1"/>
<path d="M544.98,1737.49V1781.54M538.28,1737.49H551.68M538.28,1781.54H551.68" stroke="#1c1c1c" stroke-width="1.2" fill="none"/>
<path d="M585.26,1660.92V1713.36M578.56,1660.92H591.96M578.56,1713.36H591.96" stroke="#1c1c1c" stroke-width="1.2" fill="none"/>
<path d="M625.54,1592.02V1649.6M618.84,1592.02H632.24M618.84,1649.6H632.24" stroke="#1c1c1c" stroke-width="1.2" fill="none"/>
<path d="M665.82,1545.56V1608.48M659.12,1545.56H672.52M659.12,1608.48H672.52" stroke="#1c1c1c" stroke-width="1.2" fill="none"/>
<path d="M746.31,1790.45V1828.73M739.61,1790.45H753.01M739.61,1828.73H753.01" stroke="#1c1c1c" stroke-width="1.2" fill="none"/>
<path d="M786.59,1732.24V1776.92M779.89,1732.24H793.29M779.89,1776.92H793.29" stroke="#1c1c1c" stroke-width="1.2" fill="none"/>
<path d="M826.87,1684.42V1733.5M820.17,1684.42H833.57M820.17,1733.5H833.57" stroke="#1c1c1c" stroke-width="1.2" fill="none"/>
<path d="M867.15,1626.31V1680.64M860.45,1626.31H873.85M860.45,1680.64H873.85" stroke="#1c1c1c" stroke-width="1.2" fill="none"/>
<path d="M947.64,1839.64V1874.88M940.94,1839.64H954.34M940.94,1874.88H954.34" stroke="#1c1c1c" stroke-width="1.2" fill="none"/>
<path d="M987.92,1814.36V1851.18M981.22,1814.36H994.62M981.22,1851.18H994.62" stroke="#1c1c1c" stroke-width="1.2" fill="none"/>
<path d="M1028.2,1711.58V1758.78M1021.5,1711.58H1034.9M1021.5,1758.78H1034.9" stroke="#1c1c1c" stroke-width="1.2" fill="none"/>
<path d="M1068.48,1664.39V1716.09M1061.78,1664.39H1075.18M1061.78,1716.09H1075.18" stroke="#1c1c1c" stroke-width="1.2" fill="none"/>
<path d="M1148.97,1910.64V1938.86M1142.27,1910.64H1155.67M1142.27,1938.86H1155.67" stroke="#1c1c1c" stroke-width="1.2" fill="none"/>
<path d="M1189.25,1863.55V1895.86M1182.55,1863.55H1195.95M1182.55,1895.86H1195.95" stroke="#1c1c1c" stroke-width="1.2" fill="none"/>
<path d="M1229.53,1804.71V1843.42M1222.83,1804.71H1236.23M1222.83,1843.42H1236.23" stroke="#1c1c1c" stroke-width="1.2" fill="none"/>
<path d="M1269.81,1733.5V1778.18M1263.11,1733.5H1276.51M1263.11,1778.18H1276.51" stroke="#1c1c1c" stroke-width="1.2" fill="none"/>
<rect x="485.3" y="1506.8" width="921.7" height="699.5" fill="none" stroke="#000" stroke-width="3"/>
<path d="M485.3,2206.3H497.8M485.3,2153.86H497.8M485.3,2101.42H497.8M485.3,2048.98H497.8M485.3,1996.54H497.8M485.3,1944.1H497.8M485.3,1891.66H497.8M485.3,1839.22H497.8M485.3,1786.78H497.8M485.3,1734.34H497.8M485.3,1681.9H497.8M485.3,1629.46H497.8M485.3,1577.02H497.8M485.3,1524.58H497.8M605.4,2206.3V2192.8M806.73,2206.3V2192.8M1008.06,2206.3V2192.8M1209.39,2206.3V2192.8" stroke="#000" stroke-width="2.7" fill="none"/>
<text transform="translate(430.52,2214.4) scale(0.9889,1)" font-family='"Liberation Sans", Arial, Helvetica, sans-serif' font-weight="bold" font-size="29.58" fill="#000">0.0</text>
<text transform="translate(430.08,2161.96) scale(0.9889,1)" font-family='"Liberation Sans", Arial, Helvetica, sans-serif' font-weight="bold" font-size="29.58" fill="#000">0.5</text>
<text transform="translate(430.52,2109.52) scale(0.9889,1)" font-family='"Liberation Sans", Arial, Helvetica, sans-serif' font-weight="bold" font-size="29.58" fill="#000">1.0</text>
<text transform="translate(430.08,2057.08) scale(0.9889,1)" font-family='"Liberation Sans", Arial, Helvetica, sans-serif' font-weight="bold" font-size="29.58" fill="#000">1.5</text>
<text transform="translate(430.52,2004.64) scale(0.9889,1)" font-family='"Liberation Sans", Arial, Helvetica, sans-serif' font-weight="bold" font-size="29.58" fill="#000">2.0</text>
<text transform="translate(430.08,1952.2) scale(0.9889,1)" font-family='"Liberation Sans", Arial, Helvetica, sans-serif' font-weight="bold" font-size="29.58" fill="#000">2.5</text>
<text transform="translate(430.52,1899.76) scale(0.9889,1)" font-family='"Liberation Sans", Arial, Helvetica, sans-serif' font-weight="bold" font-size="29.58" fill="#000">3.0</text>
<text transform="translate(430.08,1847.32) scale(0.9889,1)" font-family='"Liberation Sans", Arial, Helvetica, sans-serif' font-weight="bold" font-size="29.58" fill="#000">3.5</text>
<text transform="translate(430.52,1794.88) scale(0.9889,1)" font-family='"Liberation Sans", Arial, Helvetica, sans-serif' font-weight="bold" font-size="29.58" fill="#000">4.0</text>
<text transform="translate(430.08,1742.44) scale(0.9889,1)" font-family='"Liberation Sans", Arial, Helvetica, sans-serif' font-weight="bold" font-size="29.58" fill="#000">4.5</text>
<text transform="translate(430.52,1690) scale(0.9889,1)" font-family='"Liberation Sans", Arial, Helvetica, sans-serif' font-weight="bold" font-size="29.58" fill="#000">5.0</text>
<text transform="translate(430.08,1637.56) scale(0.9889,1)" font-family='"Liberation Sans", Arial, Helvetica, sans-serif' font-weight="bold" font-size="29.58" fill="#000">5.5</text>
<text transform="translate(430.52,1585.12) scale(0.9889,1)" font-family='"Liberation Sans", Arial, Helvetica, sans-serif' font-weight="bold" font-size="29.58" fill="#000">6.0</text>
<text transform="translate(430.08,1532.68) scale(0.9889,1)" font-family='"Liberation Sans", Arial, Helvetica, sans-serif' font-weight="bold" font-size="29.58" fill="#000">6.5</text>
<text transform="translate(597.15,2242.9) scale(0.9895,1)" font-family='"Liberation Sans", Arial, Helvetica, sans-serif' font-weight="bold" font-size="30.00" fill="#000">0</text>
<text transform="translate(798.48,2242.9) scale(0.9895,1)" font-family='"Liberation Sans", Arial, Helvetica, sans-serif' font-weight="bold" font-size="30.00" fill="#000">5</text>
<text transform="translate(991.55,2242.9) scale(0.9895,1)" font-family='"Liberation Sans", Arial, Helvetica, sans-serif' font-weight="bold" font-size="30.00" fill="#000">10</text>
<text transform="translate(1192.88,2242.9) scale(0.9895,1)" font-family='"Liberation Sans", Arial, Helvetica, sans-serif' font-weight="bold" font-size="30.00" fill="#000">15</text>
<text transform="translate(824.87,2300.62) scale(0.9492,1)" font-family='"Liberation Sans", Arial, Helvetica, sans-serif' font-weight="bold" font-size="37.73" fill="#000">HEA wt.%</text>
<text transform="translate(415.53,1950.4) rotate(-90) scale(0.9553,1)" font-family='"Liberation Sans", Arial, Helvetica, sans-serif' font-weight="bold" font-size="37.00" fill="#000">Wear Rate</text>
<text transform="translate(924.01,1566.08) scale(1.0190,1)" font-family='"Liberation Sans", Arial, Helvetica, sans-serif' font-weight="bold" font-size="34.87" fill="#000">Applied load VS Wear Rate</text>
<text transform="translate(883.92,2355.9) scale(1.0120,1)" font-family='"Liberation Serif", "Times New Roman", serif' font-weight="normal" font-size="46.39" fill="#000">e.</text>
<rect x="1304.3" y="1835.4" width="77.6" height="38.3" fill="#000000" stroke="#000" stroke-width="1"/>
<text transform="translate(1303.2,1910.84) scale(0.9921,1)" font-family='"Liberation Sans", Arial, Helvetica, sans-serif' font-weight="bold" font-size="35.63" fill="#000">10 N</text>
<rect x="1304.3" y="1924.9" width="77.6" height="38.3" fill="#ff0000" stroke="#000" stroke-width="1"/>
<text transform="translate(1303.2,2000.34) scale(0.9921,1)" font-family='"Liberation Sans", Arial, Helvetica, sans-serif' font-weight="bold" font-size="35.63" fill="#000">20 N</text>
<rect x="1304.3" y="2014.4" width="77.6" height="38.3" fill="#00ff00" stroke="#000" stroke-width="1"/>
<text transform="translate(1303.2,2089.84) scale(0.9921,1)" font-family='"Liberation Sans", Arial, Helvetica, sans-serif' font-weight="bold" font-size="35.63" fill="#000">30 N</text>
<rect x="1304.3" y="2103.9" width="77.6" height="38.3" fill="#0000ff" stroke="#000" stroke-width="1"/>
<text transform="translate(1303.2,2179.34) scale(0.9921,1)" font-family='"Liberation Sans", Arial, Helvetica, sans-serif' font-weight="bold" font-size="35.63" fill="#000">40 N</text>
</svg>
</body></html>
